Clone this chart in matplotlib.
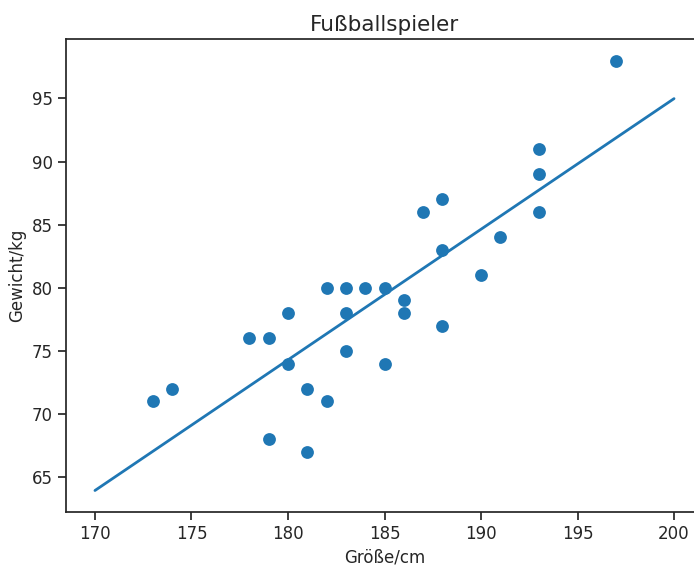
import numpy as np
import matplotlib
matplotlib.use("Agg")
import matplotlib.pyplot as plt
import seaborn as sns

sns.set_theme(style="ticks")
plt.rcParams['font.family'] = ['DejaVu Sans']

groesse = [173, 174, 178, 179, 179, 180, 180, 181, 181, 182, 182, 183, 183, 183,
           184, 185, 185, 186, 186, 187, 188, 188, 188, 190, 191, 193, 193, 193, 197]
gewicht = [71, 72, 76, 76, 68, 78, 74, 72, 67, 80, 71, 80, 78, 75,
           80, 80, 74, 79, 78, 86, 87, 83, 77, 81, 84, 91, 89, 86, 98]
line_x = [170, 200]

fig = plt.figure(figsize=(6.94, 5.66), dpi=100)
ax = fig.add_axes([66/694, (566-512)/566, 637/694, 473/566])

ax.scatter(groesse, gewicht, s=85, color="#1f77b4", linewidths=0, zorder=3)
k, d = np.polyfit(groesse, gewicht, 1)
lx = np.array(line_x, dtype=float)
ax.plot(lx, k*lx + d, color="#1f77b4", lw=2)

ax.set_xticks([170, 175, 180, 185, 190, 195, 200])
ax.set_yticks([65, 70, 75, 80, 85, 90, 95])
ax.tick_params(labelsize=12)
ax.set_xlabel("Größe/cm", fontsize=12)
ax.set_ylabel("Gewicht/kg", fontsize=12)
ax.set_title("Fußballspieler", fontsize=15.5)

fig.savefig("out.png", dpi=100)
